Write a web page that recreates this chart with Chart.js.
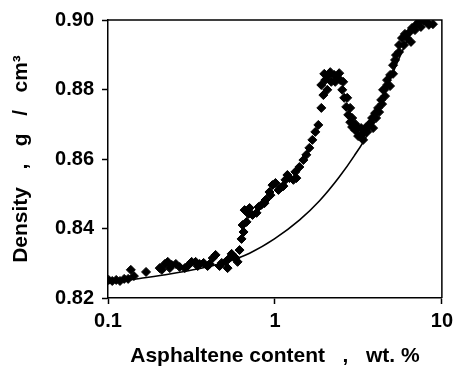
<!DOCTYPE html>
<html>
<head>
<meta charset="utf-8">
<script src="https://cdn.jsdelivr.net/npm/chart.js@4.4.1/dist/chart.umd.min.js"></script>
<style>
html,body{margin:0;padding:0;background:#fff;}
#wrap{width:458px;height:376px;}
</style>
</head>
<body>
<div id="wrap"><canvas id="c" width="458" height="376"></canvas></div>
<script>
const asphaltene = [0.101,0.106,0.112,0.118,0.125,0.132,0.137,0.143,0.169,0.204,
0.219,0.228,0.241,0.255,0.269,0.300,0.317,0.335,0.354,0.374,
0.395,0.424,0.441,0.466,0.480,0.506,0.535,0.550,0.581,0.614,
0.631,0.640,0.658,0.676,0.705,0.734,0.776,0.830,0.878,0.927,
0.966,1.007,1.049,1.094,1.156,1.222,1.290,1.326,1.401,1.480,
1.542,1.607,1.675,1.745,1.819,1.896,1.950,2.00,2.085,2.174,
2.265,2.361,2.461,2.53,2.60,2.673,2.748,2.825,2.90,3.026,
3.15,3.28,3.42,3.52,3.66,3.82,3.98,4.15,4.33,4.51,
4.70,4.90,5.10,5.31,5.54,5.77,6.01,6.35,6.62,7.00,
7.29,7.81,8.36,
1.895,1.975,2.145,2.297,2.427,2.564,2.058,
2.709,2.823,2.902,3.024,3.151,3.284,3.376,
3.567,3.768,3.873,4.036,4.207,4.384,4.568,4.444,4.695,4.893,
5.099,5.241,5.538,5.932,6.18,6.53,6.90,7.49,8.14,8.84,
0.2101,0.2345,0.2884,0.3446,0.4064,0.5205,0.5972,0.6486,0.6948,0.7973,
0.8658,0.940,1.124,1.187,1.344];
const density = [0.8252,0.8249,0.8252,0.8249,0.8255,0.8255,0.8281,0.8263,0.8275,0.8286,
0.8298,0.8304,0.8295,0.8298,0.8289,0.8292,0.8304,0.8304,0.8298,0.8301,
0.8292,0.8315,0.8324,0.8292,0.8301,0.8304,0.8315,0.8327,0.8315,0.8338,
0.8370,0.8410,0.8453,0.8419,0.8459,0.8439,0.8445,0.8468,0.8482,0.8505,
0.8525,0.8531,0.8511,0.8519,0.8540,0.8545,0.8540,0.8563,0.8577,0.8597,
0.8612,0.8632,0.8655,0.8678,0.8698,0.8747,0.8784,0.8827,0.8839,0.8822,
0.8842,0.8833,0.8827,0.8799,0.8776,0.8750,0.8727,0.8706,0.8692,0.8683,
0.8689,0.8669,0.8675,0.8692,0.8698,0.8718,0.8732,0.8747,0.8770,0.8799,
0.8813,0.8842,0.8870,0.8899,0.8928,0.8948,0.8960,0.8963,0.8977,0.8986,
0.8994,0.8998,0.8986,
0.8813,0.8845,0.8850,0.8822,0.8847,0.8822,0.8799,
0.8776,0.8747,0.8718,0.8701,0.8666,0.8689,0.8655,
0.8678,0.8706,0.8689,0.8718,0.8735,0.8758,0.8781,0.8799,0.8827,0.8810,
0.8845,0.8885,0.8908,0.8928,0.8948,0.8937,0.8971,0.8980,0.8994,0.8988,
0.8281,0.8286,0.8286,0.8292,0.8298,0.8286,0.8304,0.8390,0.8442,0.8462,
0.8473,0.8496,0.8522,0.8554,0.8545];
const fitAsphaltene = [0.1,0.155,0.2344,0.354,0.4995,0.705,0.993,1.401,1.845,2.427,2.985,3.565,4.21,5.17,6.35,7.50];
const fitDensity = [0.8243,0.8256,0.8269,0.8285,0.8302,0.8329,0.8370,0.8424,0.8479,0.8548,0.8609,0.8669,0.8750,0.8856,0.8951,0.9006];
const xTickValues = [0.1,1,10];
const yTickValues = [0.82,0.84,0.86,0.88,0.90];
const xTitle = 'Asphaltene content   ,   wt. %';
const yTitle = 'Density   ,   g   /   cm\u00B3';

const FONT = 'Liberation Sans, Arial, sans-serif';
const scatterPts = asphaltene.map((x,i)=>({x:x,y:density[i]}));
const fitPts = fitAsphaltene.map((x,i)=>({x:x,y:fitDensity[i]}));

const framePlugin = {
  id:'frame',
  afterDatasetsDraw(chart){
    const a = chart.chartArea, ctx = chart.ctx;
    ctx.save();
    ctx.strokeStyle = '#000';
    ctx.lineWidth = 1.5;
    ctx.beginPath();
    ctx.moveTo(a.left, a.top);
    ctx.lineTo(a.right, a.top);
    ctx.lineTo(a.right, a.bottom);
    ctx.stroke();
    ctx.restore();
  }
};

new Chart(document.getElementById('c'), {
  type:'scatter',
  data:{
    datasets:[
      {
        label:'data',
        data:scatterPts,
        pointStyle:'rectRot',
        pointRadius:4.5,
        backgroundColor:'#000',
        borderColor:'#000',
        borderWidth:1,
        order:1
      },
      {
        label:'fit',
        type:'line',
        data:fitPts,
        showLine:true,
        pointRadius:0,
        borderColor:'#000',
        borderWidth:1.6,
        fill:false,
        cubicInterpolationMode:'monotone',
        order:2
      }
    ]
  },
  plugins:[framePlugin],
  options:{
    responsive:false,
    animation:false,
    devicePixelRatio:1,
    layout:{padding:{left:0,right:15,top:20,bottom:0}},
    plugins:{legend:{display:false},tooltip:{enabled:false}},
    scales:{
      x:{
        type:'logarithmic',
        min:0.1, max:10,
        afterBuildTicks(scale){ scale.ticks = xTickValues.map(v=>({value:v})); },
        afterFit(scale){ scale.height = 78; },
        grid:{display:true, drawOnChartArea:false, drawTicks:true, tickLength:6, tickWidth:1.5, tickColor:'#000'},
        border:{display:true, color:'#000', width:1.5},
        ticks:{
          color:'#000', padding:5, maxRotation:0, autoSkip:false,
          font:{family:FONT, size:20, weight:'bold'},
          callback:(v)=> String(v)
        },
        title:{display:true, text:xTitle, color:'#000', font:{family:FONT, size:21, weight:'bold'}, padding:{top:0,bottom:7}}
      },
      y:{
        type:'linear',
        min:0.82, max:0.90,
        afterBuildTicks(scale){ scale.ticks = yTickValues.map(v=>({value:v})); },
        afterFit(scale){ scale.width = 108; },
        grid:{display:true, drawOnChartArea:false, drawTicks:true, tickLength:6, tickWidth:1.5, tickColor:'#000'},
        border:{display:true, color:'#000', width:1.5},
        ticks:{
          color:'#000', padding:8, autoSkip:false,
          font:{family:FONT, size:20, weight:'bold'},
          callback:(v)=> Number(v).toFixed(2)
        },
        title:{display:true, text:yTitle, color:'#000', font:{family:FONT, size:21, weight:'bold'}, padding:{top:9,bottom:0}}
      }
    }
  }
});
</script>
</body>
</html>
